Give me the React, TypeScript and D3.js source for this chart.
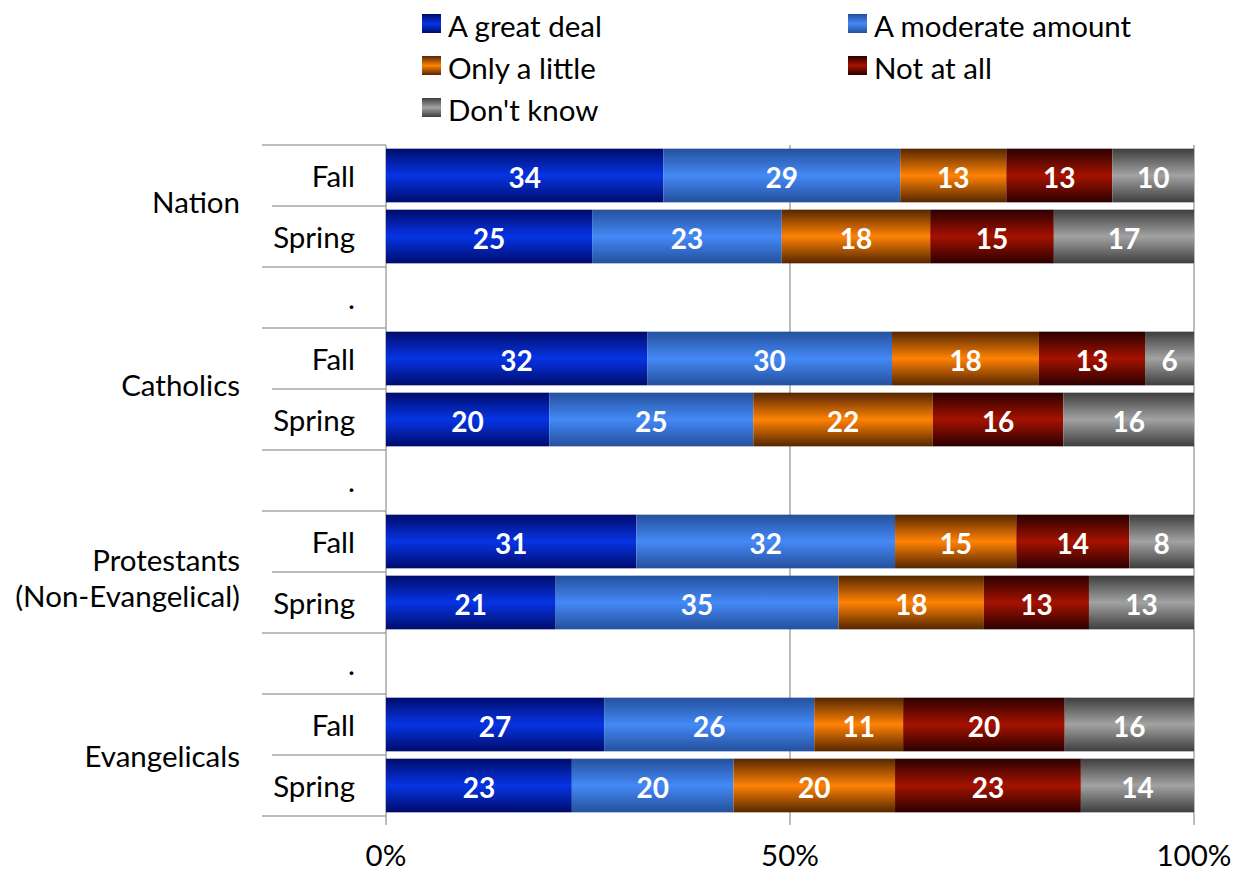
import React, { useEffect } from "react";
import * as d3 from "d3";

const groups = ["Nation", "Catholics", "Protestants\n(Non-Evangelical)", "Evangelicals"];
const periods = ["Fall", "Spring"];
const seriesNames = ["A great deal", "A moderate amount", "Only a little", "Not at all", "Don't know"];
const greatDeal = [34, 25, 32, 20, 31, 21, 27, 23];
const moderateAmount = [29, 23, 30, 25, 32, 35, 26, 20];
const onlyALittle = [13, 18, 18, 22, 15, 18, 11, 20];
const notAtAll = [13, 15, 13, 16, 14, 13, 20, 23];
const dontKnow = [10, 17, 6, 16, 8, 13, 16, 14];
const xTicks = [0, 0.5, 1];

const seriesValues = [greatDeal, moderateAmount, onlyALittle, notAtAll, dontKnow];
const gradients = [
  { id: "g0", edge: "#000c6c", mid: "#0634e4" },
  { id: "g1", edge: "#24509c", mid: "#4489f6" },
  { id: "g2", edge: "#552600", mid: "#ff8205" },
  { id: "g3", edge: "#2a0000", mid: "#a51200" },
  { id: "g4", edge: "#3e3e3e", mid: "#a2a2a2" },
];
// small layout nudges for the outer category labels (pixels)
const groupLabelNudge = [-5, -5, 5, 0];

type Row = { key: string; group: number; label: string; idx: number };
const rows: Row[] = [];
groups.forEach((g, gi) => {
  periods.forEach((p, pi) => rows.push({ key: `${gi}-${p}`, group: gi, label: p, idx: gi * 2 + pi }));
  if (gi < groups.length - 1) rows.push({ key: `gap-${gi}`, group: -1, label: ".", idx: -1 });
});

const W = 1237, H = 871;
const left = 386, right = 1194, top = 145, bottom = 816;
const FONT = "Lato, 'Open Sans', sans-serif";
const FS = 29.5;

export default function App() {
  useEffect(() => { document.body.style.margin = "0"; }, []);
  const x = d3.scaleLinear().domain([0, 1]).range([left, right]);
  const y = d3.scaleBand<string>().domain(rows.map(r => r.key)).range([top, bottom]).paddingInner(0.12).paddingOuter(0.06);
  const step = y.step();
  const dataRows = rows.filter(r => r.idx >= 0).map(r => {
    const o: any = { key: r.key };
    seriesNames.forEach((s, si) => { o[s] = seriesValues[si][r.idx]; });
    return o;
  });
  const stack = d3.stack<any>().keys(seriesNames).offset(d3.stackOffsetExpand);
  const stacked = stack(dataRows);

  const boundaries: { y: number; outer: boolean }[] = [];
  rows.forEach((r, i) => {
    const yTop = top + i * step;
    const outer = i === 0 || r.label !== "Spring";
    boundaries.push({ y: yTop, outer });
  });
  boundaries.push({ y: bottom, outer: true });

  const grid = "#a6a6a6";
  return (
    <svg width={W} height={H} style={{ display: "block" }}>
      <defs>
        {gradients.map(g => (
          <linearGradient key={g.id} id={g.id} x1="0" y1="0" x2="0" y2="1">
            <stop offset="0" stopColor={g.edge} />
            <stop offset="0.5" stopColor={g.mid} />
            <stop offset="1" stopColor={g.edge} />
          </linearGradient>
        ))}
      </defs>
      <rect width={W} height={H} fill="#fff" />
      {seriesNames.map((s, i) => {
        const col = i % 2, row = Math.floor(i / 2);
        const lx = col === 0 ? 422 : 848;
        const ly = 24 + row * 42;
        return (
          <g key={s}>
            <rect x={lx} y={ly - 10} width={19} height={19} fill={`url(#${gradients[i].id})`} />
            <text x={lx + 26} y={ly + 1} dominantBaseline="central" fontFamily={FONT} fontSize={FS} fill="#000">{s}</text>
          </g>
        );
      })}
      {xTicks.map(t => (
        <line key={t} x1={x(t)} x2={x(t)} y1={top} y2={bottom + 9} stroke={grid} strokeWidth={1.5} />
      ))}
      {boundaries.map((b, i) => (
        <line key={i} x1={b.outer ? 262 : 272} x2={left} y1={b.y} y2={b.y} stroke={grid} strokeWidth={1.5} />
      ))}
      {stacked.map((layer, si) => (
        <g key={layer.key}>
          {layer.map((d, di) => {
            const k = dataRows[di].key;
            const x0 = x(d[0]), x1 = x(d[1]);
            const yy = y(k)!;
            return (
              <g key={k}>
                <rect x={x0} y={yy} width={x1 - x0} height={y.bandwidth()} fill={`url(#${gradients[si].id})`} />
                <text x={(x0 + x1) / 2} y={yy + y.bandwidth() / 2 + 1} textAnchor="middle" dominantBaseline="central"
                  fontFamily={FONT} fontWeight="bold" fontSize={28} fill="#fff">{dataRows[di][layer.key]}</text>
              </g>
            );
          })}
        </g>
      ))}
      {rows.map(r => (
        <text key={r.key} x={355} y={y(r.key)! + y.bandwidth() / 2} textAnchor="end" dominantBaseline="central"
          fontFamily={FONT} fontSize={FS} fill="#000">{r.label}</text>
      ))}
      {groups.map((g, gi) => {
        const k1 = `${gi}-Fall`, k2 = `${gi}-Spring`;
        const cy = (y(k1)! + y(k2)! + y.bandwidth()) / 2 + groupLabelNudge[gi];
        const lines = g.split("\n");
        return (
          <text key={g} x={240} textAnchor="end" fontFamily={FONT} fontSize={FS} fill="#000">
            {lines.map((ln, li) => (
              <tspan key={li} x={240} y={cy + (li - (lines.length - 1) / 2) * 36} dominantBaseline="central">{ln}</tspan>
            ))}
          </text>
        );
      })}
      {xTicks.map(t => (
        <text key={t} x={x(t)} y={866} textAnchor="middle" fontFamily={FONT} fontSize={FS} fill="#000">
          {d3.format(".0%")(t)}
        </text>
      ))}
    </svg>
  );
}
